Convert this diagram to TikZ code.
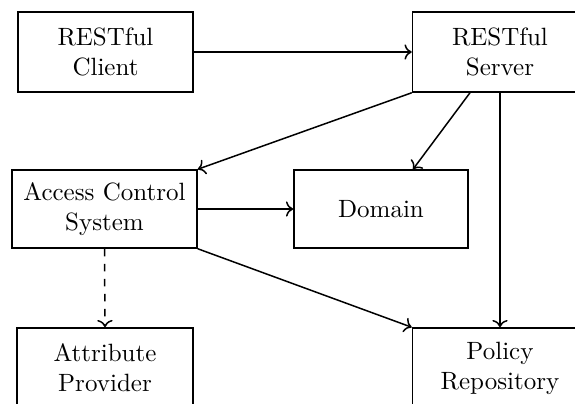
\documentclass[tikz,border=0pt]{standalone}
\usetikzlibrary{arrows.meta}
\begin{document}
\begin{tikzpicture}[x=1pt,y=1pt,
  box/.style={draw, semithick, rectangle, align=center, inner sep=2pt, font=\normalsize},
  conn/.style={semithick, ->}]
\useasboundingbox (0,0) rectangle (230,-161.2);
\node[box, minimum width=70pt, minimum height=32pt] (client) at (42.2,-20.8) {RESTful\\Client};
\node[box, minimum width=70pt, minimum height=32pt] (server) at (200,-20.8) {RESTful\\Server};
\node[box, minimum width=74pt, minimum height=31.2pt] (acs) at (41.8,-83.6) {Access Control\\System};
\node[box, minimum width=69.6pt, minimum height=31.2pt] (domain) at (152.4,-83.6) {Domain};
\node[box, minimum width=70.4pt, minimum height=32pt] (attr) at (42,-147.2) {Attribute\\Provider};
\node[box, minimum width=70pt, minimum height=32pt] (policy) at (200,-147.2) {Policy\\Repository};
\draw[conn] (client.east) -- (server.west);
\draw[conn] (server.south west) -- (acs.north east);
\draw[conn] ([xshift=-12pt]server.south) -- ([xshift=12.8pt]domain.north);
\draw[conn] (server.south) -- (policy.north);
\draw[conn] (acs.east) -- (domain.west);
\draw[conn] (acs.south east) -- (policy.north west);
\draw[conn, dashed] (acs.south) -- (attr.north);
\end{tikzpicture}
\end{document}
